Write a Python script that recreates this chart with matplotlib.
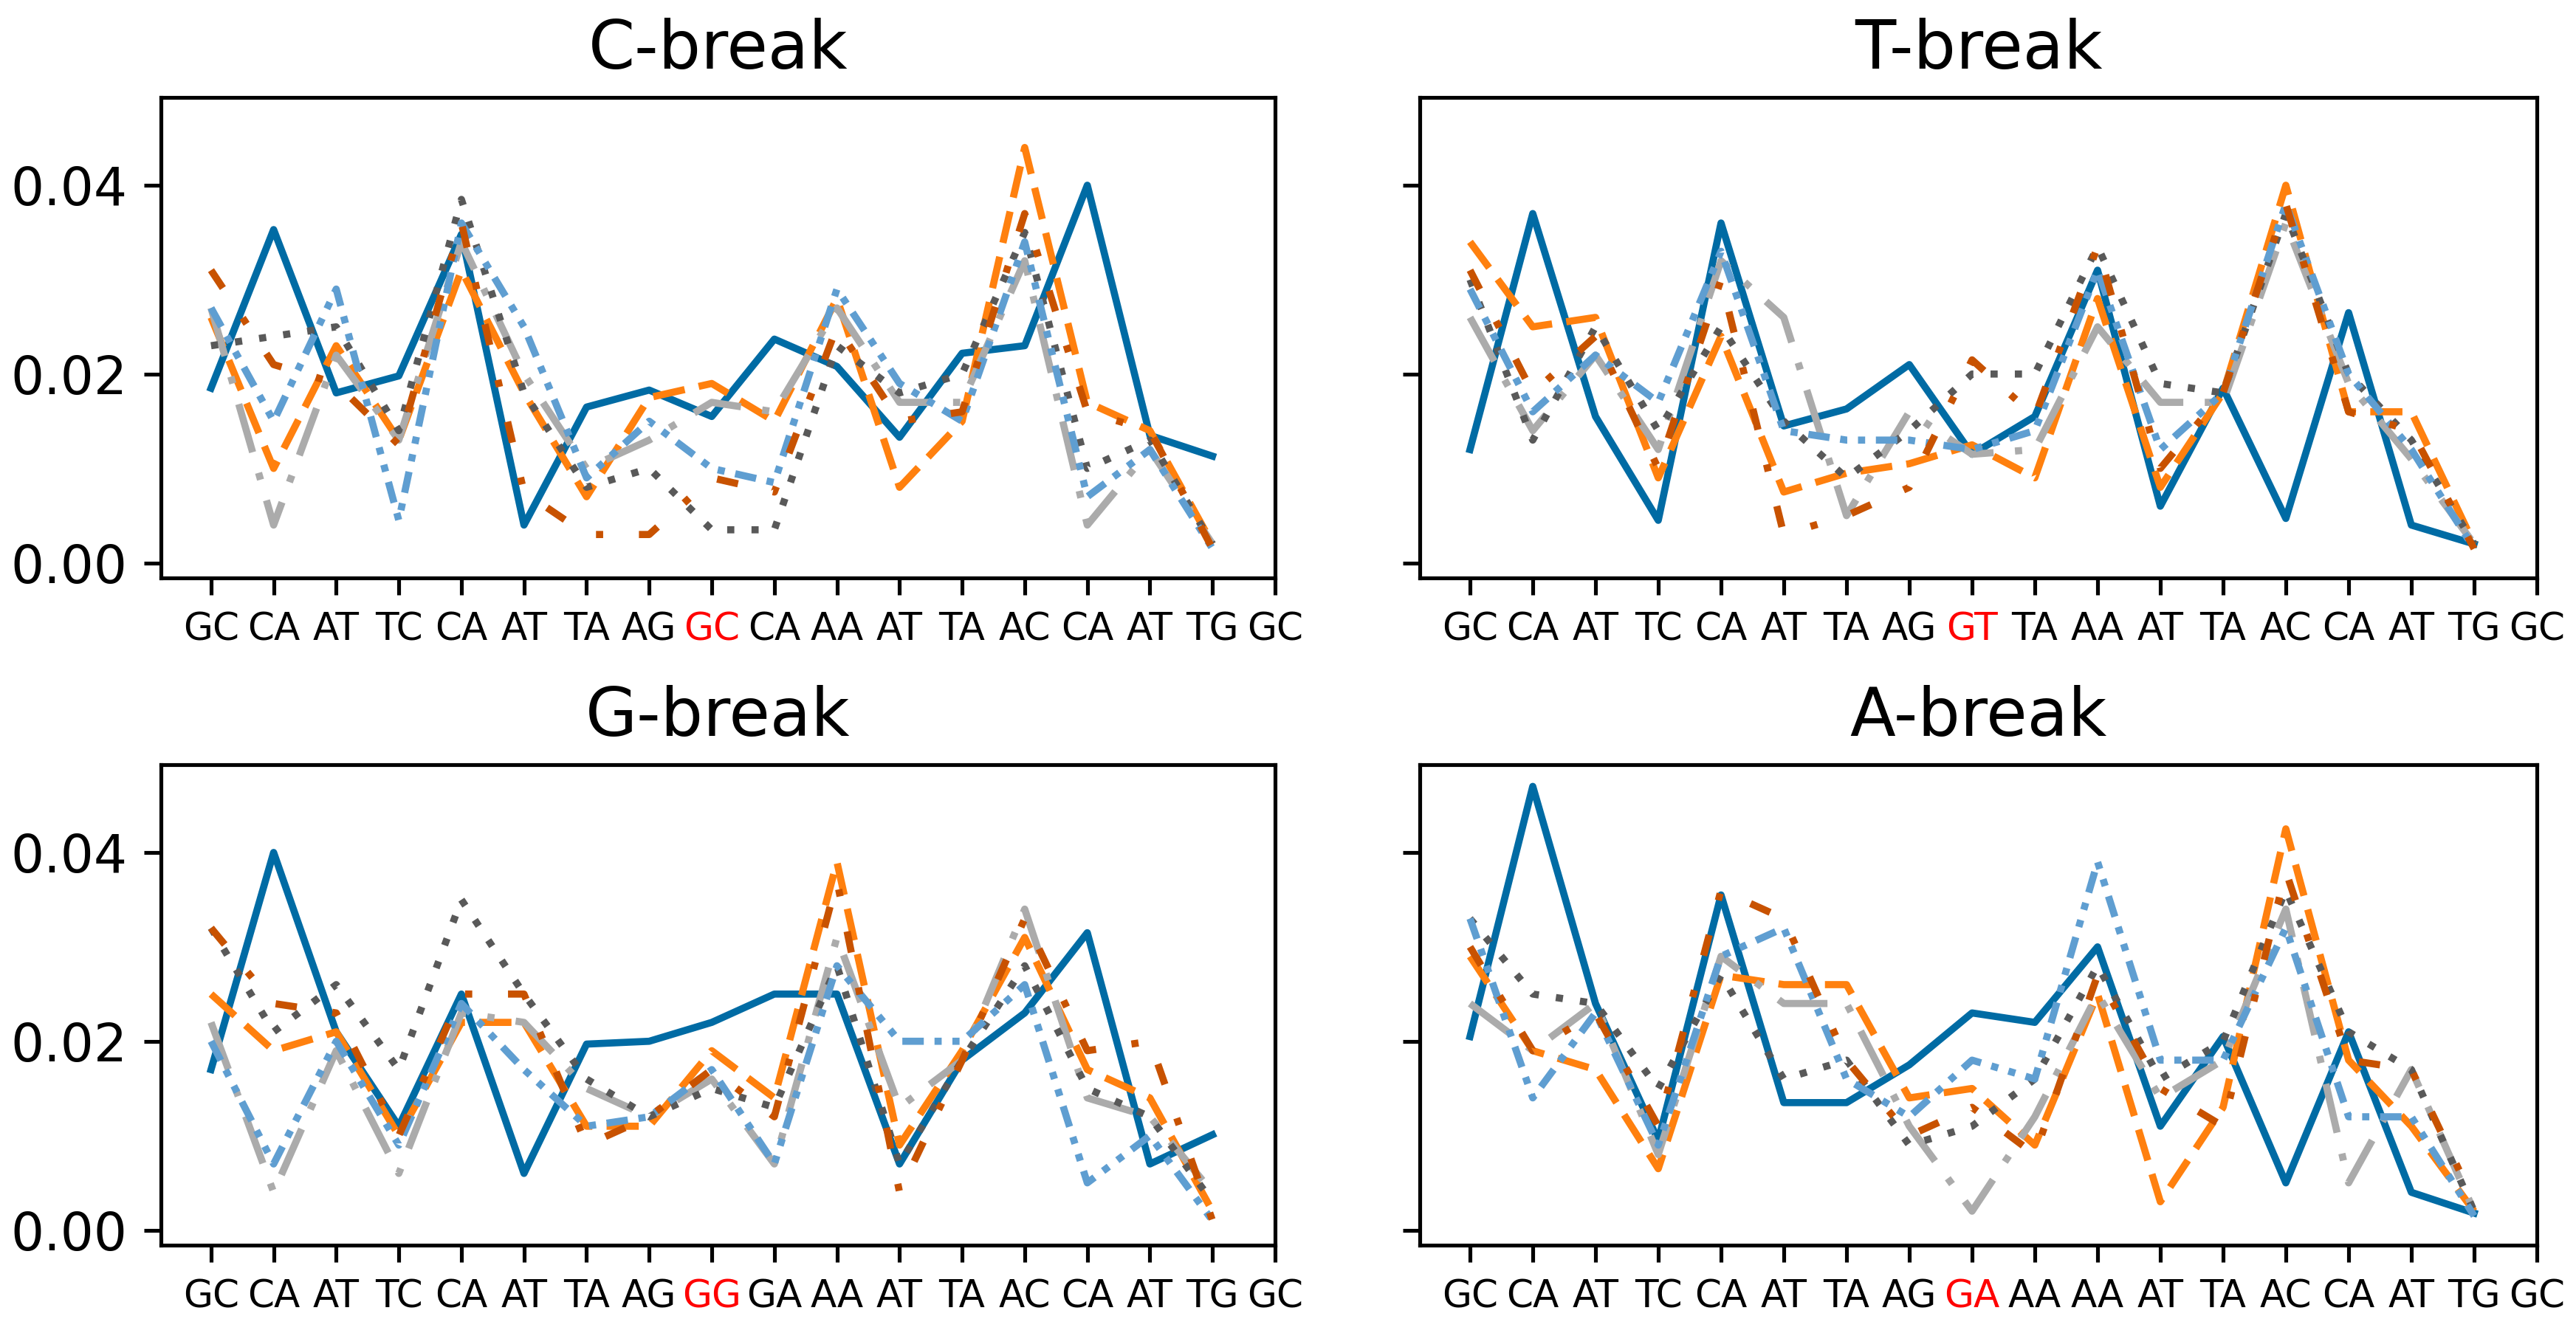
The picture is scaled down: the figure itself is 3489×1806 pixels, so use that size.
import matplotlib
matplotlib.use("Agg")
import matplotlib.pyplot as plt
import numpy as np

titles = ["C-break", "T-break", "G-break", "A-break"]
tick_labels = [
    ["GC","CA","AT","TC","CA","AT","TA","AG","GC","CA","AA","AT","TA","AC","CA","AT","TG","GC"],
    ["GC","CA","AT","TC","CA","AT","TA","AG","GT","TA","AA","AT","TA","AC","CA","AT","TG","GC"],
    ["GC","CA","AT","TC","CA","AT","TA","AG","GG","GA","AA","AT","TA","AC","CA","AT","TG","GC"],
    ["GC","CA","AT","TC","CA","AT","TA","AG","GA","AA","AA","AT","TA","AC","CA","AT","TG","GC"],
]
highlight_index = 8

# C-break
c_s0 = [0.0185, 0.0353, 0.018, 0.0198, 0.0348, 0.004, 0.0165, 0.0183, 0.0155, 0.0237, 0.0208, 0.0133, 0.0222, 0.023, 0.040, 0.0135, 0.0113]
c_s1 = [0.026, 0.010, 0.023, 0.013, 0.031, 0.018, 0.007, 0.0175, 0.019, 0.015, 0.028, 0.008, 0.015, 0.044, 0.017, 0.014, 0.002]
c_s2 = [0.027, 0.004, 0.022, 0.013, 0.034, 0.020, 0.010, 0.013, 0.017, 0.016, 0.027, 0.017, 0.017, 0.032, 0.004, 0.012, 0.002]
c_s3 = [0.023, 0.024, 0.025, 0.014, 0.0385, 0.018, 0.008, 0.010, 0.0035, 0.0035, 0.023, 0.018, 0.020, 0.035, 0.010, 0.013, 0.002]
c_s4 = [0.027, 0.015, 0.029, 0.0045, 0.036, 0.025, 0.009, 0.015, 0.010, 0.0085, 0.029, 0.019, 0.015, 0.034, 0.007, 0.012, 0.0015]
c_s5 = [0.031, 0.021, 0.019, 0.0125, 0.036, 0.0075, 0.003, 0.003, 0.009, 0.0075, 0.025, 0.015, 0.016, 0.037, 0.016, 0.014, 0.0015]

# T-break
t_s0 = [0.012, 0.037, 0.0155, 0.0045, 0.036, 0.0145, 0.0163, 0.021, 0.0115, 0.0155, 0.031, 0.006, 0.0185, 0.0047, 0.0265, 0.004, 0.002]
t_s1 = [0.034, 0.025, 0.026, 0.009, 0.024, 0.0075, 0.0095, 0.0105, 0.0125, 0.009, 0.028, 0.008, 0.018, 0.040, 0.016, 0.016, 0.002]
t_s2 = [0.026, 0.014, 0.022, 0.012, 0.032, 0.026, 0.005, 0.016, 0.0115, 0.012, 0.025, 0.017, 0.017, 0.036, 0.019, 0.011, 0.002]
t_s3 = [0.030, 0.013, 0.025, 0.014, 0.025, 0.015, 0.009, 0.014, 0.020, 0.020, 0.0335, 0.019, 0.018, 0.037, 0.020, 0.013, 0.002]
t_s4 = [0.029, 0.016, 0.022, 0.017, 0.033, 0.014, 0.013, 0.013, 0.012, 0.014, 0.031, 0.012, 0.018, 0.038, 0.020, 0.012, 0.0015]
t_s5 = [0.031, 0.018, 0.024, 0.010, 0.030, 0.003, 0.005, 0.008, 0.0215, 0.0155, 0.0335, 0.010, 0.018, 0.038, 0.016, 0.014, 0.0015]

# G-break
g_s0 = [0.017, 0.040, 0.021, 0.011, 0.025, 0.006, 0.0197, 0.020, 0.022, 0.025, 0.025, 0.007, 0.018, 0.023, 0.0315, 0.007, 0.0101]
g_s1 = [0.025, 0.019, 0.021, 0.010, 0.022, 0.022, 0.011, 0.011, 0.019, 0.014, 0.039, 0.009, 0.019, 0.031, 0.017, 0.014, 0.002]
g_s2 = [0.022, 0.004, 0.019, 0.006, 0.023, 0.022, 0.015, 0.012, 0.016, 0.007, 0.031, 0.013, 0.018, 0.034, 0.014, 0.012, 0.004]
g_s3 = [0.032, 0.021, 0.026, 0.017, 0.035, 0.025, 0.016, 0.012, 0.015, 0.013, 0.028, 0.007, 0.018, 0.028, 0.015, 0.012, 0.003]
g_s4 = [0.020, 0.007, 0.020, 0.009, 0.024, 0.017, 0.011, 0.012, 0.017, 0.007, 0.028, 0.020, 0.020, 0.026, 0.005, 0.010, 0.001]
g_s5 = [0.032, 0.024, 0.023, 0.010, 0.025, 0.025, 0.009, 0.012, 0.017, 0.012, 0.037, 0.004, 0.018, 0.033, 0.019, 0.020, 0.001]

# A-break
a_s0 = [0.0205, 0.047, 0.024, 0.0095, 0.0355, 0.0135, 0.0135, 0.0175, 0.023, 0.022, 0.030, 0.011, 0.0205, 0.005, 0.021, 0.004, 0.0018]
a_s1 = [0.029, 0.019, 0.017, 0.0065, 0.027, 0.026, 0.026, 0.014, 0.015, 0.009, 0.025, 0.003, 0.013, 0.0425, 0.018, 0.011, 0.002]
a_s2 = [0.024, 0.019, 0.024, 0.008, 0.029, 0.024, 0.024, 0.011, 0.002, 0.012, 0.025, 0.014, 0.018, 0.034, 0.005, 0.017, 0.002]
a_s3 = [0.033, 0.025, 0.024, 0.015, 0.027, 0.016, 0.018, 0.009, 0.011, 0.016, 0.028, 0.016, 0.020, 0.036, 0.021, 0.017, 0.002]
a_s4 = [0.033, 0.014, 0.023, 0.009, 0.029, 0.032, 0.016, 0.012, 0.018, 0.016, 0.039, 0.018, 0.018, 0.032, 0.012, 0.012, 0.0015]
a_s5 = [0.030, 0.019, 0.023, 0.011, 0.036, 0.033, 0.018, 0.010, 0.013, 0.008, 0.027, 0.015, 0.011, 0.038, 0.018, 0.017, 0.003]

panels = [
    [c_s0, c_s1, c_s2, c_s3, c_s4, c_s5],
    [t_s0, t_s1, t_s2, t_s3, t_s4, t_s5],
    [g_s0, g_s1, g_s2, g_s3, g_s4, g_s5],
    [a_s0, a_s1, a_s2, a_s3, a_s4, a_s5],
]

colors = ["#006BA4", "#FF800E", "#ABABAB", "#595959", "#5F9ED1", "#C85200"]
styles = ["-", (0, (4.5, 2)), (0, (7, 3, 1, 3)), (0, (1, 2.4)),
          (0, (3, 1.5, 1, 1.5, 1, 1.5)), (0, (3, 5, 1, 5))]

DPI = 465
fig = plt.figure(figsize=(3489 / DPI, 1806 / DPI), dpi=DPI)

W, H = 3489, 1806
boxes = [
    (218, 132, 1727, 783),
    (1923, 132, 3436, 783),
    (218, 1036, 1727, 1687),
    (1923, 1036, 3436, 1687),
]
axes = []
for i, (x0, y0, x1, y1) in enumerate(boxes):
    rect = [x0 / W, 1 - y1 / H, (x1 - x0) / W, (y1 - y0) / H]
    ax = fig.add_axes(rect, sharey=axes[0] if axes else None)
    axes.append(ax)

for i, ax in enumerate(axes):
    for s, vals in enumerate(panels[i]):
        xs = np.arange(len(vals))
        ax.plot(xs, vals, color=colors[s], linestyle=styles[s], linewidth=1.5)
    ax.set_title(titles[i], fontsize=14)
    ax.set_xticks(np.arange(len(tick_labels[i])))
    ax.set_xticklabels(tick_labels[i], fontsize=8)
    ax.get_xticklabels()[highlight_index].set_color("red")
    ax.set_xlim(-0.8, 17)
    ax.set_yticks([0.0, 0.02, 0.04])
    ax.tick_params(axis="y", labelsize=11)
    if i % 2 == 1:
        ax.tick_params(axis="y", labelleft=False)

axes[0].set_ylim(-0.0016, 0.0493)
axes[0].yaxis.set_major_formatter(matplotlib.ticker.FormatStrFormatter("%.2f"))

fig.savefig("out.png", dpi=DPI)
